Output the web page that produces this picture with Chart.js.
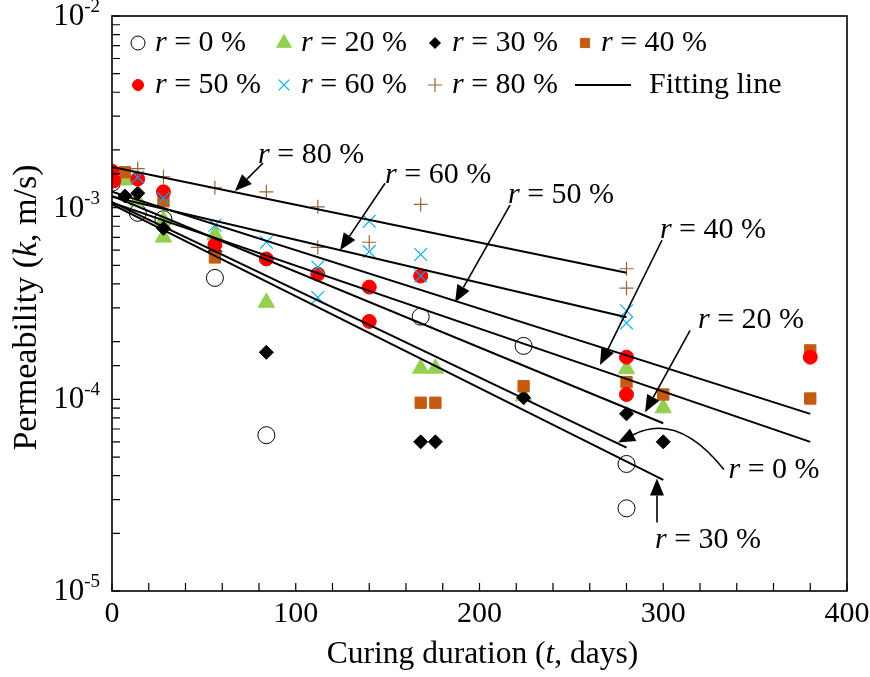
<!DOCTYPE html>
<html>
<head>
<meta charset="utf-8">
<script src="https://cdn.jsdelivr.net/npm/chart.js@4.4.1/dist/chart.umd.min.js"></script>
<style>
  html, body { margin: 0; padding: 0; background: #fff; }
</style>
</head>
<body>
<canvas id="chart" width="870" height="677"></canvas>
<script>
// measured values, curing duration (days) vs permeability k (m/s)
const ratios = [0, 20, 30, 40, 50, 60, 80];

const days0 = [0, 14, 28, 56, 84, 168, 224, 280, 280];
const perm0 = [1.35e-3, 9.4e-4, 8.7e-4, 4.3e-4, 6.5e-5, 2.7e-4, 1.9e-4, 4.6e-5, 2.7e-5];

const days20 = [7, 14, 28, 28, 56, 84, 168, 176, 224, 280, 300];
const perm20 = [1.39e-3, 1.09e-3, 8.6e-4, 7.0e-4, 7.2e-4, 3.2e-4, 1.45e-4, 1.45e-4, 1.04e-4, 1.44e-4, 9.0e-5];

const days30 = [7, 14, 28, 56, 84, 168, 176, 224, 280, 300];
const perm30 = [1.15e-3, 1.19e-3, 7.8e-4, 5.9e-4, 1.76e-4, 6.0e-5, 6.0e-5, 1.02e-4, 8.4e-5, 6.0e-5];

const days40 = [7, 28, 56, 168, 176, 224, 280, 300, 380, 380];
const perm40 = [1.53e-3, 1.08e-3, 5.5e-4, 9.6e-5, 9.6e-5, 1.17e-4, 1.23e-4, 1.06e-4, 1.8e-4, 1.01e-4];

const days50 = [0, 1, 14, 28, 56, 84, 112, 140, 140, 168, 280, 280, 380];
const perm50 = [1.55e-3, 1.38e-3, 1.41e-3, 1.21e-3, 6.4e-4, 5.4e-4, 4.5e-4, 3.85e-4, 2.55e-4, 4.4e-4, 1.66e-4, 1.06e-4, 1.66e-4];

const days60 = [14, 28, 56, 84, 112, 112, 140, 140, 168, 168, 280, 280];
const perm60 = [1.44e-3, 1.12e-3, 8.1e-4, 6.6e-4, 4.9e-4, 3.4e-4, 8.5e-4, 5.9e-4, 5.7e-4, 4.4e-4, 2.9e-4, 2.5e-4];

const days80 = [14, 28, 56, 84, 112, 112, 140, 168, 280, 280];
const perm80 = [1.6e-3, 1.45e-3, 1.27e-3, 1.21e-3, 1.01e-3, 6.2e-4, 6.6e-4, 1.04e-3, 4.8e-4, 3.8e-4];

// fitting lines (same order as ratios): start at t = 0, end at fitEnd
const fitEnd = [280, 300, 300, 380, 380, 280, 280];
const fitStartK = [1.07e-3, 1.15e-3, 1.04e-3, 1.06e-3, 1.21e-3, 1.14e-3, 1.63e-3];
const fitEndK = [5.6e-5, 7.5e-5, 3.8e-5, 6.0e-5, 8.4e-5, 2.68e-4, 4.57e-4];

const xTicks = [0, 100, 200, 300, 400];
const yDecades = [-2, -3, -4, -5];

// label / arrow anchors in data units: [text t, text k, arrow from t, from k, tip t, tip k]
const labelRatios = [80, 60, 50, 40, 20, 30];
const labelAnchors = [
  [79.5, 1.88e-3, 82.2, 1.71e-3, 66.9, 1.22e-3],
  [148.6, 1.48e-3, 148.6, 1.34e-3, 124.1, 6.0e-4],
  [215.5, 1.16e-3, 216.6, 1.03e-3, 186.7, 3.21e-4],
  [298.2, 7.64e-4, 299.3, 6.76e-4, 265.6, 1.51e-4],
  [318.9, 2.59e-4, 314.6, 2.29e-4, 290.1, 8.55e-5],
  [295.5, 1.84e-5, 296.6, 2.28e-5, 296.6, 3.86e-5],
];
// r = 0 % has a curved arrow: text, curve start, control, tip
const curveLabel = [335.5, 4.26e-5];
const curvePath = [[333.0, 4.3e-5], [308.0, 8.6e-5], [275.4, 5.95e-5]];

const FONT = '"Liberation Serif", "Times New Roman", serif';

const series = [
  { days: days0, perm: perm0, style: 'circle', radius: 8.5, bg: 'rgba(0,0,0,0)', color: '#000000', bw: 1, lr: 7 },
  { days: days20, perm: perm20, style: 'triangle', radius: 9.5, bg: '#92D050', color: '#92D050', bw: 1, lr: 8.5 },
  { days: days30, perm: perm30, style: 'rectRot', radius: 7, bg: '#000000', color: '#000000', bw: 1, lr: 5.5 },
  { days: days40, perm: perm40, style: 'rect', radius: 8, bg: '#C55A11', color: '#C55A11', bw: 1, lr: 6.5 },
  { days: days50, perm: perm50, style: 'circle', radius: 7, bg: '#FF0000', color: '#FF0000', bw: 1, lr: 5.5 },
  { days: days60, perm: perm60, style: 'crossRot', radius: 9, bg: '#00B0F0', color: '#00B0F0', bw: 1.2, lr: 7.5 },
  { days: days80, perm: perm80, style: 'cross', radius: 7, bg: '#996633', color: '#996633', bw: 1.2, lr: 7 },
];

const datasets = [];
series.forEach((s, i) => {
  datasets.push({
    type: 'scatter',
    label: `r = ${ratios[i]} %`,
    data: s.days.map((t, j) => ({ x: t, y: s.perm[j] })),
    pointStyle: s.style,
    pointRadius: s.radius,
    pointHoverRadius: s.radius,
    pointBackgroundColor: s.bg,
    pointBorderColor: s.color,
    pointBorderWidth: s.bw,
    showLine: false,
    order: 10 - i,
  });
});
ratios.forEach((r, i) => {
  datasets.push({
    type: 'line',
    label: 'Fitting line ' + r,
    data: [{ x: 0, y: fitStartK[i] }, { x: fitEnd[i], y: fitEndK[i] }],
    borderColor: '#000000',
    borderWidth: 2,
    pointRadius: 0,
    fill: false,
    order: 1,
  });
});

function rich(ctx, parts, x, y, size, align) {
  let w = 0;
  parts.forEach(p => {
    ctx.font = (p.i ? 'italic ' : '') + size + 'px ' + FONT;
    w += ctx.measureText(p.t).width;
  });
  let cx = align === 'center' ? x - w / 2 : x;
  parts.forEach(p => {
    ctx.font = (p.i ? 'italic ' : '') + size + 'px ' + FONT;
    ctx.fillText(p.t, cx, y);
    cx += ctx.measureText(p.t).width;
  });
}

function rLabel(v) {
  return [{ t: 'r', i: true }, { t: ' = ' + v + ' %' }];
}

const HEAD_LEN = 17, HEAD_HALF = 7;

function head(ctx, a, x2, y2) {
  const bx = x2 - HEAD_LEN * Math.cos(a), by = y2 - HEAD_LEN * Math.sin(a);
  ctx.beginPath();
  ctx.moveTo(x2, y2);
  ctx.lineTo(bx + HEAD_HALF * Math.sin(a), by - HEAD_HALF * Math.cos(a));
  ctx.lineTo(bx - HEAD_HALF * Math.sin(a), by + HEAD_HALF * Math.cos(a));
  ctx.closePath();
  ctx.fill();
  return [bx, by];
}

function arrow(ctx, x1, y1, x2, y2) {
  const a = Math.atan2(y2 - y1, x2 - x1);
  const b = head(ctx, a, x2, y2);
  ctx.beginPath();
  ctx.moveTo(x1, y1);
  ctx.lineTo(b[0], b[1]);
  ctx.stroke();
}

const decor = {
  id: 'decor',
  afterDraw(chart) {
    const ctx = chart.ctx;
    const { left, right, top, bottom } = chart.chartArea;
    const xs = chart.scales.x, ys = chart.scales.y;
    ctx.save();
    ctx.strokeStyle = '#000';
    ctx.fillStyle = '#000';

    // frame
    ctx.lineWidth = 1.6;
    ctx.strokeRect(left, top, right - left, bottom - top);

    // inward ticks
    ctx.lineWidth = 1.2;
    ctx.beginPath();
    for (let v = 0; v <= 400; v += 20) {
      const px = xs.getPixelForValue(v);
      ctx.moveTo(px, bottom);
      ctx.lineTo(px, bottom - 8);
    }
    ys.ticks.forEach(t => {
      const py = ys.getPixelForValue(t.value);
      ctx.moveTo(left, py);
      ctx.lineTo(left + 8, py);
    });
    ctx.stroke();

    // y tick labels 10^n
    ctx.textBaseline = 'middle';
    ctx.textAlign = 'left';
    yDecades.forEach(d => {
      const py = ys.getPixelForValue(Math.pow(10, d));
      const sup = String(d);
      ctx.font = '19px ' + FONT;
      const sw = ctx.measureText(sup).width;
      ctx.font = '31px ' + FONT;
      const bw = ctx.measureText('10').width;
      const x0 = left - 12 - sw - bw;
      ctx.fillText('10', x0, py + 1);
      ctx.font = '19px ' + FONT;
      ctx.fillText(sup, x0 + bw, py - 9);
    });

    // axis titles
    rich(ctx, [{ t: 'Curing duration (' }, { t: 't', i: true }, { t: ', days)' }],
      (left + right) / 2 + 3, 655, 31.5, 'center');
    ctx.save();
    ctx.translate(27, (top + bottom) / 2 + 4);
    ctx.rotate(-Math.PI / 2);
    rich(ctx, [{ t: 'Permeability (' }, { t: 'k', i: true }, { t: ', m/s)' }], 0, 0, 34, 'center');
    ctx.restore();

    // legend
    const rows = [[0, 1, 2, 3], [4, 5, 6, -1]];
    const colMark = [left + 26, left + 172, left + 323, left + 473];
    const colText = [left + 43, left + 189, left + 340, left + 489];
    rows.forEach((row, ri) => {
      const ly = top + 27 + ri * 42;
      row.forEach((si, ci) => {
        if (si < 0) {
          ctx.strokeStyle = '#000';
          ctx.lineWidth = 2;
          ctx.beginPath();
          ctx.moveTo(left + 463, ly);
          ctx.lineTo(left + 519, ly);
          ctx.stroke();
          ctx.fillStyle = '#000';
          rich(ctx, [{ t: 'Fitting line' }], left + 537, ly, 30, 'left');
          return;
        }
        const s = series[si];
        ctx.fillStyle = s.bg;
        ctx.strokeStyle = s.color;
        ctx.lineWidth = s.bw;
        Chart.helpers.drawPoint(ctx, { pointStyle: s.style, radius: s.lr, borderWidth: s.bw, rotation: 0 },
          colMark[ci], ly);
        ctx.fillStyle = '#000';
        rich(ctx, rLabel(ratios[si]), colText[ci], ly, 30, 'left');
      });
    });

    // fitting line labels with arrows
    ctx.fillStyle = '#000';
    ctx.strokeStyle = '#000';
    ctx.lineWidth = 1.6;
    labelRatios.forEach((r, i) => {
      const a = labelAnchors[i];
      rich(ctx, rLabel(r), xs.getPixelForValue(a[0]), ys.getPixelForValue(a[1]), 30, 'left');
      arrow(ctx, xs.getPixelForValue(a[2]), ys.getPixelForValue(a[3]),
        xs.getPixelForValue(a[4]), ys.getPixelForValue(a[5]));
    });
    rich(ctx, rLabel(0), xs.getPixelForValue(curveLabel[0]), ys.getPixelForValue(curveLabel[1]), 30, 'left');
    const p = curvePath.map(q => [xs.getPixelForValue(q[0]), ys.getPixelForValue(q[1])]);
    const ang = Math.atan2(p[2][1] - p[1][1], p[2][0] - p[1][0]);
    const base = head(ctx, ang, p[2][0], p[2][1]);
    ctx.beginPath();
    ctx.moveTo(p[0][0], p[0][1]);
    ctx.quadraticCurveTo(p[1][0], p[1][1], base[0], base[1]);
    ctx.stroke();

    ctx.restore();
  }
};

new Chart(document.getElementById('chart'), {
  type: 'scatter',
  data: { datasets },
  options: {
    responsive: false,
    animation: false,
    layout: { padding: { top: 16, right: 23, left: 0, bottom: 0 } },
    plugins: { legend: { display: false }, tooltip: { enabled: false } },
    scales: {
      x: {
        type: 'linear',
        min: 0,
        max: 400,
        afterBuildTicks: (s) => { s.ticks = xTicks.map(v => ({ value: v })); },
        ticks: { color: '#000', font: { family: FONT, size: 30 }, padding: -3, maxRotation: 0, autoSkip: false },
        grid: { display: false },
        border: { display: false },
        afterFit: (s) => { s.height = 86; },
      },
      y: {
        type: 'logarithmic',
        min: 1e-5,
        max: 1e-2,
        ticks: { callback: () => '', autoSkip: false },
        grid: { display: false },
        border: { display: false },
        afterFit: (s) => { s.width = 112; },
      },
    },
  },
  plugins: [decor],
});
</script>
</body>
</html>
